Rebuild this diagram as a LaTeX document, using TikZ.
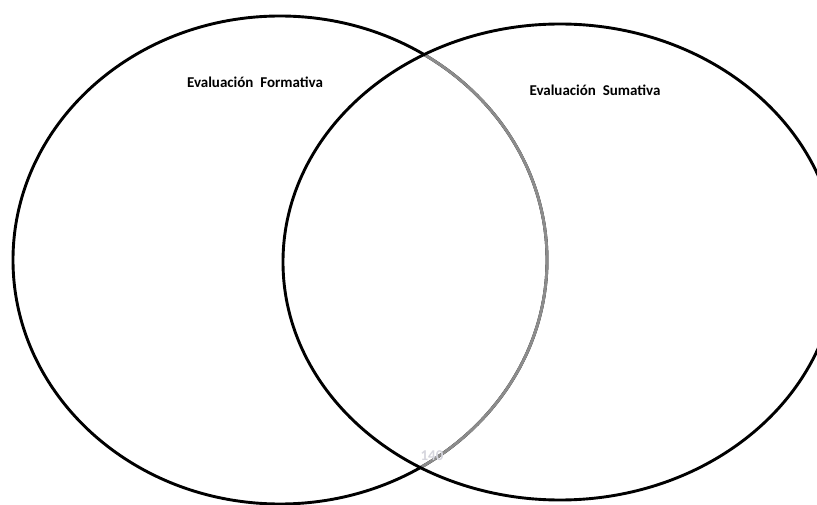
\documentclass[tikz,border=0pt]{standalone}
\usepackage{fontspec}
\setmainfont{Carlito}
\begin{document}
\begin{tikzpicture}[x=1pt,y=1pt,
  ring/.style={line width=2.9pt,draw=black},
  lbl/.style={font=\bfseries\fontsize{15}{17}\selectfont,inner sep=0pt}]
\useasboundingbox (0,0) rectangle (817,504);
\clip (0,0) rectangle (817,504);
\fill[white] (0,0) rectangle (817,504);
\draw[ring] (280,244) ellipse [x radius=267, y radius=244];
\begin{scope}
  \clip (560,242) ellipse [x radius=277, y radius=238];
  \draw[ring,draw=gray!90] (280,244) ellipse [x radius=267, y radius=244];
\end{scope}
\draw[ring] (560,242) ellipse [x radius=277, y radius=238];
\node[lbl] (f) at (255,422) {Evaluación\ \ Formativa};
\node[lbl] (s) at (595,414) {Evaluación\ \ Sumativa};
\node[font=\fontsize{15}{17}\selectfont\bfseries,text=blue!10!gray!30,inner sep=0pt] (p) at (432,48) {140};
\end{tikzpicture}
\end{document}
